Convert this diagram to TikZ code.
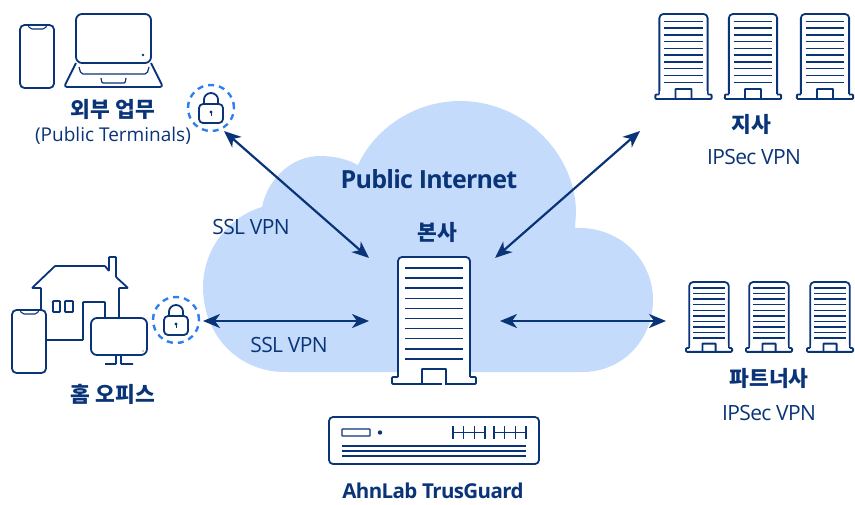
\documentclass[tikz,border=0pt]{standalone}
\usepackage{fontspec}
\setmainfont{Open Sans}
\newfontfamily\krfont{Noto Sans CJK KR}
\newfontfamily\tightfont[LetterSpace=-3]{Open Sans}
\usetikzlibrary{arrows.meta}
\definecolor{navy}{HTML}{0A3478}
\definecolor{cloudblue}{HTML}{C5DBFB}
\definecolor{lockblue}{HTML}{2F7FF0}
\tikzset{
  icon/.style={draw=navy,line width=1.8pt,line join=round,rounded corners=0.6pt},
  vpnarrow/.style={draw=navy,line width=2.2pt,{Stealth[length=17pt,width=14pt,inset=5pt]}-{Stealth[length=17pt,width=14pt,inset=5pt]}},
  lbl/.style={text=navy,font=\fontsize{19}{22}\selectfont,inner sep=0pt},
  vpnlbl/.style={text=navy,font=\fontsize{21}{24}\selectfont\tightfont,inner sep=0pt},
  headlbl/.style={text=navy,font=\fontsize{21.5}{24}\selectfont\bfseries\krfont,inner sep=0pt},
  lockring/.style={circle,draw=lockblue,line width=2.4pt,dash pattern=on 6pt off 5pt,minimum size=46pt,inner sep=0pt},
  pics/bldg/.style={code={
    \draw[icon,fill=white,rounded corners=4pt] (-36,120) -- (-36,0) -- (36,0) -- (36,120);
    \draw[icon,fill=white,rounded corners=1pt] (-36,120) -- (-42,120) -- (-42,127) -- (42,127) -- (42,120) -- (36,120);
    \fill[white] (-35,115) rectangle (35,121.5);
    \draw[icon,rounded corners=0.3pt] (-12,127) -- (-12,112) -- (12,112) -- (12,127);
    \foreach \ry in {0,...,9}
      \draw[navy,line width=1.5pt] (-29,11+10.1*\ry) -- (29,11+10.1*\ry);
  }},
  pics/padlock/.style={code={
    \draw[icon,rounded corners=4pt] (-12,-4) rectangle (12,15);
    \draw[icon] (-7,-4) -- (-7,-8) arc[start angle=180,end angle=360,radius=7] -- (7,-4);
    \fill[navy] (0,4) circle (1.6pt);
    \draw[navy,line width=1pt] (0,4) -- (0,8);
  }},
  pics/phone/.style={code={
    \draw[icon,rounded corners=4.5pt] (0,0) rectangle (34,63);
    \draw[icon,line width=1.1pt,rounded corners=2pt] (8,0) -- (10,4) -- (25,4) -- (27,0);
  }}
}
\begin{document}
\begin{tikzpicture}[x=1pt,y=-1pt]
  \useasboundingbox (0,0) rectangle (855,504);
  % cloud
  \fill[cloudblue] (285,372)
    .. controls (238,372) and (203,335) .. (203,287)
    .. controls (203,250) and (228,217) .. (262,207)
    .. controls (268,178) and (292,156) .. (320,156)
    .. controls (334,156) and (347,159) .. (358,165)
    .. controls (375,128) and (415,101) .. (460,101)
    .. controls (525,101) and (576,155) .. (576,213)
    -- (575,228)
    .. controls (620,226) and (653,260) .. (653,300)
    .. controls (653,340) and (622,372) .. (583,372) -- cycle;
  % named ends of the connectors
  \node[lockring] (publock) at (211,108) {};
  \node[lockring] (homelock) at (176,320) {};
  \coordinate (pubend) at (224,131);
  \coordinate (homeend) at (203,321);
  \coordinate (hqleft) at (369,321);
  \coordinate (hqright) at (500,321);
  \coordinate (hqnw) at (369,258);
  \coordinate (hqne) at (495,258);
  \coordinate (branch) at (640,131);
  \coordinate (partner) at (666,321);
  \draw[vpnarrow] (pubend) -- (hqnw);
  \draw[vpnarrow] (homeend) -- (hqleft);
  \draw[vpnarrow] (hqne) -- (branch);
  \draw[vpnarrow] (hqright) -- (partner);
  % locks
  \pic at (211,108) {padlock};
  \pic at (176,320) {padlock};
  % head office, branch, partner
  \pic at (434,257) {bldg};
  \draw[white,line width=2pt] (441.5,384) -- (445,384);
  \foreach \bx in {683.5,753,825}
    \pic[scale=0.67] at (\bx,14) {bldg};
  \foreach \bx in {709,769,830}
    \pic[scale=0.55] at (\bx,282) {bldg};
  % devices top left
  \pic at (20,25) {phone};
  \draw[icon,rounded corners=6pt] (76,63) -- (76,14) -- (151,14) -- (151,63) -- cycle;
  \fill[navy] (143,55) circle (1.3pt);
  \draw[icon,rounded corners=3pt] (76,63) -- (64,87) -- (163,87) -- (151,63);
  \draw[icon,line width=1.2pt,rounded corners=2pt] (79,67) -- (81,74) -- (147,74) -- (149,67);
  \draw[icon,line width=1.2pt,rounded corners=1pt] (101,78) -- (102,83) -- (125,83) -- (126,78);
  % home office
  \draw[icon] (41,310) -- (41,288) -- (32,288) -- (55,266) -- (105,266) -- (109,271) -- (109,257) -- (116,257) -- (116,277) -- (128,288) -- (119,288) -- (119,318);
  \draw[icon] (53,301) rectangle (60,312);
  \draw[icon] (65,301) rectangle (73,312);
  \draw[icon] (46,340) -- (83,340) -- (83,302) -- (105,302) -- (105,318);
  \pic at (12,310) {phone};
  \draw[icon,rounded corners=6pt] (91,318) rectangle (147,355);
  \fill[navy] (143,351) circle (0.7pt);
  \draw[icon] (116,355) -- (116,364) -- (105,364);
  \draw[icon] (121,355) -- (121,364) -- (133,364);
  % gateway
  \draw[icon,rounded corners=4pt] (329,417) rectangle (539,464);
  \draw[navy,line width=1.2pt,rounded corners=0.5pt] (342,429) rectangle (370,436);
  \fill[navy] (380,432.5) circle (2.2pt);
  \foreach \gx in {453,494} {
    \draw[navy,line width=1pt] (\gx,432.5) -- (\gx+32,432.5);
    \foreach \dx in {0,10.6,21.2,32}
      \draw[navy,line width=1.1pt] (\gx+\dx,426) -- (\gx+\dx,439);
  }
  \foreach \ry in {446,451,456}
    \draw[navy,line width=1.2pt] (342,\ry) -- (526,\ry);
  % text
  \node[vpnlbl,font=\fontsize{25}{28}\selectfont\tightfont\bfseries] at (429,179.5) {Public Internet};
  \node[headlbl] at (437,232) {본사};
  \node[vpnlbl] at (251,227) {SSL VPN};
  \node[vpnlbl] at (289,345) {SSL VPN};
  \node[headlbl] at (113,109) {외부 업무};
  \node[lbl] at (113,136) {(Public Terminals)};
  \node[headlbl] at (113,394) {홈 오피스};
  \node[headlbl] at (751,124) {지사};
  \node[vpnlbl] at (754,157) {IPSec VPN};
  \node[headlbl] at (769,378) {파트너사};
  \node[vpnlbl] at (769,413) {IPSec VPN};
  \node[vpnlbl,font=\fontsize{20.5}{23}\selectfont\tightfont\bfseries] at (433,491) {AhnLab TrusGuard};
\end{tikzpicture}
\end{document}
